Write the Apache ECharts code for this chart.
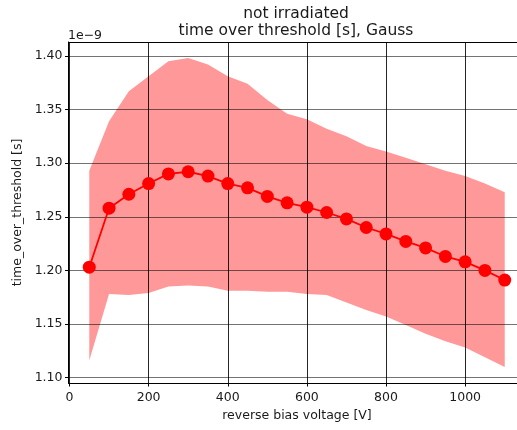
<!DOCTYPE html>
<html>
<head>
<meta charset="utf-8">
<script src="https://cdn.jsdelivr.net/npm/echarts@6/dist/echarts.min.js"></script>
<style>
  html, body { margin: 0; padding: 0; background: #fff; overflow: hidden; }
  #chart { width: 540px; height: 430px; }
</style>
</head>
<body>
<div id="chart"></div>
<script>
// Reverse bias voltage [V]
const voltages = [50, 100, 150, 200, 250, 300, 350, 400, 450, 500, 550,
                  600, 650, 700, 750, 800, 850, 900, 950, 1000, 1050, 1100];
// Mean time over threshold, in units of 1e-9 s
const meanToT = [1.203, 1.258, 1.271, 1.281, 1.290, 1.292, 1.288, 1.281, 1.277, 1.269, 1.263,
                 1.259, 1.254, 1.248, 1.240, 1.234, 1.227, 1.221, 1.213, 1.208, 1.200, 1.191];
// Band limits (mean +/- sigma of the Gauss fit), units of 1e-9 s
const bandUpper = [1.293, 1.339, 1.367, 1.381, 1.395, 1.398, 1.392, 1.381, 1.374, 1.359, 1.346,
                   1.341, 1.332, 1.325, 1.316, 1.311, 1.305, 1.299, 1.293, 1.288, 1.281, 1.273];
const bandLower = [1.116, 1.178, 1.177, 1.179, 1.185, 1.186, 1.185, 1.181, 1.181, 1.180, 1.180,
                   1.178, 1.177, 1.170, 1.163, 1.157, 1.149, 1.141, 1.134, 1.128, 1.119, 1.110];
// Tick positions
const xTicks = [0, 200, 400, 600, 800, 1000];
const yTicks = [1.10, 1.15, 1.20, 1.25, 1.30, 1.35, 1.40];

const chart = echarts.init(document.getElementById('chart'));
const font = 'DejaVu Sans';
const textColor = '#1a1a1a';
const xMin = -2.5, xMax = 1152.5;

// Filled band between lower and upper limits, drawn as one polygon
function renderBand(params, api) {
  if (params.dataIndex !== 0) return null;
  const pts = [];
  for (let i = 0; i < voltages.length; i++) pts.push(api.coord([voltages[i], bandUpper[i]]));
  for (let i = voltages.length - 1; i >= 0; i--) pts.push(api.coord([voltages[i], bandLower[i]]));
  return { type: 'polygon', shape: { points: pts }, style: { fill: 'rgb(255,153,153)' }, silent: true };
}

chart.setOption({
  animation: false,
  title: {
    text: 'not irradiated\ntime over threshold [s], Gauss',
    left: 296, top: 5, padding: 0, textAlign: 'center',
    textStyle: { fontFamily: font, fontSize: 15.5, fontWeight: 'normal', color: textColor, lineHeight: 17 }
  },
  graphic: [{
    type: 'text', left: 68, top: 29,
    style: { text: '1e\u22129', font: '12.5px "DejaVu Sans"', fill: textColor }
  }],
  grid: { left: 68.5, top: 42, width: 457, height: 341, show: false },
  xAxis: [
    {
      type: 'value', min: xMin, max: xMax, z: 5,
      name: 'reverse bias voltage [V]', nameLocation: 'middle', nameGap: 25,
      nameTextStyle: { fontFamily: font, fontSize: 12.5, color: textColor },
      axisLine: { show: true, onZero: false, lineStyle: { color: '#000', width: 1 } },
      axisTick: { show: true, length: 3.5, customValues: xTicks, lineStyle: { color: '#000' } },
      axisLabel: { customValues: xTicks, margin: 8, fontFamily: font, fontSize: 12.5, color: textColor,
                   formatter: v => String(v) },
      splitLine: { show: true, lineStyle: { color: 'rgba(0,0,0,0.85)', width: 1 } }
    },
    {
      // top spine
      type: 'value', position: 'top', min: xMin, max: xMax, z: 5,
      axisLine: { show: true, onZero: false, lineStyle: { color: '#000', width: 1 } },
      axisTick: { show: false }, axisLabel: { show: false }, splitLine: { show: false }
    }
  ],
  yAxis: {
    type: 'value', min: 1.095, max: 1.413, z: 5,
    name: 'time_over_threshold [s]', nameLocation: 'middle', nameGap: 44,
    nameTextStyle: { fontFamily: font, fontSize: 12.5, color: textColor },
    axisLine: { show: true, onZero: false, lineStyle: { color: '#000', width: 1 } },
    axisTick: { show: true, length: 3.5, customValues: yTicks, lineStyle: { color: '#000' } },
    axisLabel: { customValues: yTicks, margin: 6, fontFamily: font, fontSize: 12.5, color: textColor,
                 formatter: v => v.toFixed(2) },
    splitLine: { show: true, lineStyle: { color: 'rgba(0,0,0,0.55)', width: 1 } }
  },
  series: [
    {
      name: 'band', type: 'custom', renderItem: renderBand, silent: true, z: 1,
      xAxisIndex: 0,
      data: voltages.map((v, i) => [v, bandLower[i], bandUpper[i]]),
      encode: { x: 0, y: [1, 2] }
    },
    {
      name: 'mean', type: 'line', symbol: 'circle', symbolSize: 13, xAxisIndex: 0,
      data: voltages.map((v, i) => [v, meanToT[i]]),
      lineStyle: { color: '#ff0000', width: 1.8 },
      itemStyle: { color: '#ff0000', borderWidth: 0 }, z: 10
    }
  ]
});
</script>
</body>
</html>
